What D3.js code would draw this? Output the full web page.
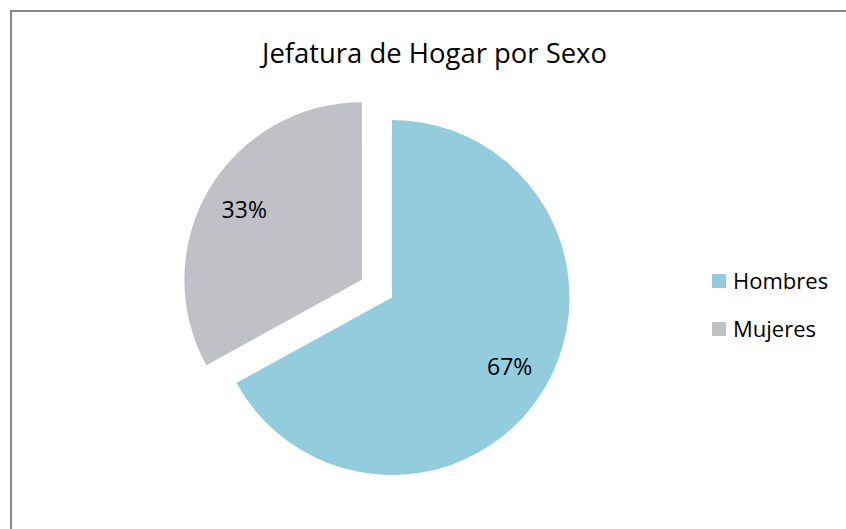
<!DOCTYPE html>
<html>
<head>
<meta charset="utf-8">
<script src="https://cdn.jsdelivr.net/npm/d3@7"></script>
<style>
  body { margin: 0; background: #fff; }
  svg { display: block; font-family: "Open Sans", sans-serif; }
</style>
</head>
<body>
<div id="chart"></div>
<script>
var categories = ['Hombres', 'Mujeres'];
var values = [67, 33];
var labels = ['67%', '33%'];
var colors = ['#93cddd', '#c0c1c6'];
var title = 'Jefatura de Hogar por Sexo';

var width = 846, height = 529;
var svg = d3.select('#chart').append('svg')
    .attr('width', width)
    .attr('height', height);

// chart frame (only left and top edges visible in the crop)
svg.append('path')
    .attr('d', 'M11,' + height + 'V11H' + width)
    .attr('fill', 'none')
    .attr('stroke', '#878787')
    .attr('stroke-width', 2);

// fit a text to a target width
function fit(sel, target) {
    var len = sel.node().getComputedTextLength();
    var fs = parseFloat(sel.attr('font-size'));
    sel.attr('font-size', fs * target / len);
}

var t = svg.append('text')
    .attr('x', 434.5)
    .attr('y', 63)
    .attr('text-anchor', 'middle')
    .attr('font-size', 30)
    .attr('fill', '#000')
    .text(title);
fit(t, 345);

var cx = 392, cy = 297.5, r = 177.5, explode = 35;

var pie = d3.pie().sort(null).value(function(d){ return d; });
var arcs = pie(values);
var arc = d3.arc().innerRadius(0).outerRadius(r);
var labelArc = d3.arc().innerRadius(r * 0.77).outerRadius(r * 0.77);

var g = svg.append('g').attr('transform', 'translate(' + cx + ',' + cy + ')');

var slices = g.selectAll('g.slice')
    .data(arcs)
    .enter()
    .append('g')
    .attr('class', 'slice')
    .attr('transform', function(d, i){
        if (i != 1) return null;
        var mid = (d.startAngle + d.endAngle) / 2;
        return 'translate(' + (Math.sin(mid) * explode) + ',' + (-Math.cos(mid) * explode) + ')';
    });

slices.append('path')
    .attr('d', arc)
    .attr('fill', function(d, i){ return colors[i]; });

slices.append('text')
    .attr('transform', function(d){
        var c = labelArc.centroid(d);
        return 'translate(' + c[0] + ',' + c[1] + ')';
    })
    .attr('text-anchor', 'middle')
    .attr('dy', '0.35em')
    .attr('font-size', 23)
    .attr('fill', '#000')
    .text(function(d, i){ return labels[i]; });

// legend
var legend = svg.append('g').attr('transform', 'translate(712,274)');
var item = legend.selectAll('g')
    .data(categories)
    .enter()
    .append('g')
    .attr('transform', function(d, i){ return 'translate(0,' + (i * 48) + ')'; });

item.append('rect')
    .attr('width', 14)
    .attr('height', 14)
    .attr('fill', function(d, i){ return colors[i]; });

item.append('text')
    .attr('x', 21)
    .attr('y', 7)
    .attr('dy', '0.35em')
    .attr('font-size', 22)
    .attr('fill', '#000')
    .text(function(d){ return d; });
</script>
</body>
</html>
